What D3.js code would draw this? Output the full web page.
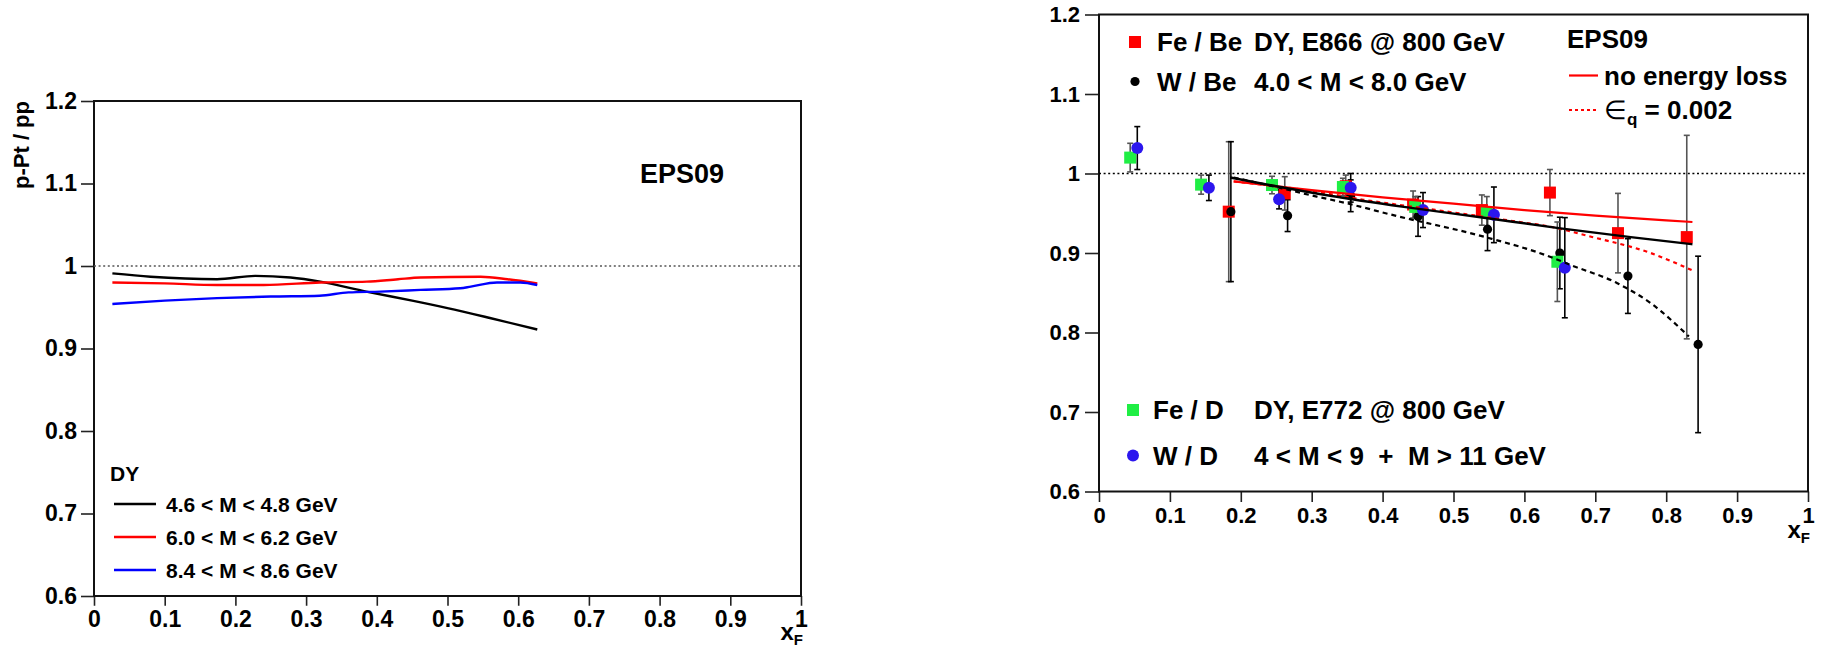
<!DOCTYPE html>
<html>
<head>
<meta charset="utf-8">
<script src="https://cdn.jsdelivr.net/npm/d3@7/dist/d3.min.js"></script>
<style>
  body { margin: 0; background: #fff; }
  text { font-family: "Liberation Sans", Arial, Helvetica, sans-serif; font-weight: bold; }
</style>
</head>
<body>
<script>
// ---------------- data ----------------
var xMajor = [0, 0.1, 0.2, 0.3, 0.4, 0.5, 0.6, 0.7, 0.8, 0.9, 1]
var yMajor = [0.6, 0.7, 0.8, 0.9, 1.0, 1.1, 1.2]

// left panel: EPS09 p-Pt / pp, DY mass bins
var dyLabels = ['4.6 < M < 4.8 GeV', '6.0 < M < 6.2 GeV', '8.4 < M < 8.6 GeV']
var dyColors = ['#000000', '#ff0000', '#0000ff']
var blackX = [0.026, 0.08, 0.174, 0.228, 0.278, 0.32, 0.385, 0.45, 0.5, 0.56, 0.627]
var blackY = [0.991, 0.987, 0.984, 0.988, 0.986, 0.981, 0.969, 0.958, 0.949, 0.937, 0.923]
var redX = [0.026, 0.1, 0.174, 0.24, 0.32, 0.386, 0.43, 0.462, 0.547, 0.585, 0.627]
var redY = [0.980, 0.979, 0.977, 0.977, 0.980, 0.981, 0.984, 0.986, 0.987, 0.984, 0.979]
var blueX = [0.026, 0.1, 0.174, 0.25, 0.319, 0.36, 0.405, 0.462, 0.518, 0.533, 0.57, 0.603, 0.627]
var blueY = [0.954, 0.958, 0.961, 0.963, 0.964, 0.968, 0.969, 0.971, 0.973, 0.975, 0.980, 0.980, 0.977]

// right panel: E866 and E772 data
var feBeX = [0.183, 0.262, 0.348, 0.443, 0.54, 0.636, 0.732, 0.829]
var feBeY = [0.952, 0.975, 0.984, 0.961, 0.954, 0.976, 0.925, 0.920]
var feBeErr = [0.088, 0.021, 0.014, 0.017, 0.019, 0.029, 0.05, 0.128]

var wBeX = [0.186, 0.266, 0.355, 0.45, 0.548, 0.65, 0.746, 0.845]
var wBeY = [0.952, 0.947, 0.972, 0.946, 0.930, 0.900, 0.871, 0.785]
var wBeErr = [0.088, 0.02, 0.02, 0.025, 0.027, 0.045, 0.047, 0.111]

var feDX = [0.044, 0.144, 0.244, 0.344, 0.446, 0.547, 0.6465]
var feDY = [1.020, 0.986, 0.9855, 0.983, 0.958, 0.951, 0.889]
var feDErr = [0.018, 0.012, 0.011, 0.011, 0.013, 0.02, 0.05]

var wDX = [0.054, 0.155, 0.254, 0.355, 0.457, 0.557, 0.657]
var wDY = [1.032, 0.982, 0.9675, 0.982, 0.954, 0.948, 0.8815]
var wDErr = [0.027, 0.016, 0.012, 0.018, 0.022, 0.035, 0.063]

// EPS09 curves (right panel)
var feNoLossX = [0.19, 0.3, 0.4, 0.5, 0.6, 0.7, 0.8, 0.837]
var feNoLossY = [0.990, 0.979, 0.970, 0.962, 0.954, 0.947, 0.941, 0.939]
var feLossX = [0.19, 0.3, 0.373, 0.468, 0.585, 0.637, 0.694, 0.778, 0.837]
var feLossY = [0.990, 0.978, 0.967, 0.955, 0.940, 0.933, 0.9205, 0.900, 0.878]
var wNoLossX = [0.185, 0.25, 0.326, 0.43, 0.538, 0.651, 0.75, 0.837]
var wNoLossY = [0.995, 0.984, 0.972, 0.958, 0.945, 0.931, 0.920, 0.911]
var wLossX = [0.19, 0.25, 0.307, 0.34, 0.42, 0.543, 0.637, 0.665, 0.731, 0.778, 0.832]
var wLossY = [0.995, 0.983, 0.971, 0.9645, 0.9465, 0.9205, 0.895, 0.885, 0.862, 0.837, 0.795]

var zip = (xs, ys) => xs.map((x, i) => [x, ys[i]])
var zip3 = (xs, ys, es) => xs.map((x, i) => [x, ys[i], es[i]])
var fmt = (d) => (d === 0 || d === 1) ? String(d) : d3.format('.1f')(d)
var minorX = d3.range(51).map((i) => i * 0.02)
var minorY = d3.range(31).map((i) => 0.6 + i * 0.02)

var svg = d3.select('body').append('svg').attr('width', 1822).attr('height', 653)

function axes (x, y, o) {
  var g = svg.append('g')
  var yA = g.append('g').attr('transform', 'translate(' + x.range()[0] + ',0)')
  yA.call(d3.axisLeft(y).tickValues(minorY).tickSize(o.minor).tickFormat(''))
  yA.call(d3.axisLeft(y).tickValues(yMajor).tickSize(o.major).tickPadding(o.yPad).tickFormat(fmt))
  var xA = g.append('g').attr('transform', 'translate(0,' + y.range()[0] + ')')
  xA.call(d3.axisBottom(x).tickValues(minorX).tickSize(o.minor * 0.7).tickFormat(''))
  xA.call(d3.axisBottom(x).tickValues(xMajor).tickSize(o.major * 0.75).tickPadding(o.xPad).tickFormat(fmt))
  g.selectAll('.domain').remove()
  g.selectAll('.tick line').attr('stroke', '#222').attr('stroke-width', 1.6)
  g.selectAll('.tick text').attr('font-size', o.font).attr('fill', '#000')
    .style('font-family', '"Liberation Sans", Arial, sans-serif').style('font-weight', 'bold')
  svg.append('rect')
    .attr('x', x.range()[0]).attr('y', y.range()[1])
    .attr('width', x.range()[1] - x.range()[0]).attr('height', y.range()[0] - y.range()[1])
    .attr('fill', 'none').attr('stroke', '#111').attr('stroke-width', 2)
  // dotted reference at 1
  svg.append('line')
    .attr('x1', x(0)).attr('x2', x(1)).attr('y1', y(1)).attr('y2', y(1))
    .attr('stroke', o.dotColor).attr('stroke-width', 1.4).attr('stroke-dasharray', '2,2.6')
  // x_F label
  var t = svg.append('text').attr('x', x(1) + 2).attr('y', o.xfY).attr('text-anchor', 'end')
    .attr('font-size', 24)
  t.append('tspan').text('x')
  t.append('tspan').attr('dy', 5).attr('font-size', 15).text('F')
}

// ---------------- left panel ----------------
var xL = d3.scaleLinear([0, 1], [94, 801])
var yL = d3.scaleLinear([0.6, 1.2], [596, 101])
axes(xL, yL, { major: 13, minor: 7, yPad: 4, xPad: 5, font: 23, dotColor: '#555', xfY: 640 })

svg.append('text')
  .attr('transform', 'translate(29,101) rotate(-90)')
  .attr('text-anchor', 'end').attr('font-size', 22).text('p-Pt / pp')

svg.append('text').attr('x', 640).attr('y', 173).attr('dy', '0.36em')
  .attr('font-size', 27).text('EPS09')

var lineL = d3.line().x((d) => xL(d[0])).y((d) => yL(d[1])).curve(d3.curveMonotoneX)
var leftSeries = [zip(blackX, blackY), zip(redX, redY), zip(blueX, blueY)]
svg.append('g').selectAll('path').data(leftSeries).enter()
  .append('path')
  .attr('d', lineL)
  .attr('fill', 'none')
  .attr('stroke', (d, i) => dyColors[i])
  .attr('stroke-width', 2.4)

svg.append('text').attr('x', 110).attr('y', 473).attr('dy', '0.36em').attr('font-size', 21).text('DY')
var legL = svg.append('g').selectAll('g').data(dyLabels).enter()
  .append('g').attr('transform', (d, i) => 'translate(0,' + (504 + i * 33) + ')')
legL.append('line').attr('x1', 114).attr('x2', 156)
  .attr('stroke', (d, i) => dyColors[i]).attr('stroke-width', 2.4)
legL.append('text').attr('x', 166).attr('dy', '0.36em').attr('font-size', 21).text((d) => d)

// ---------------- right panel ----------------
var xR = d3.scaleLinear([0, 1], [1099, 1808])
var yR = d3.scaleLinear([0.6, 1.2], [491.5, 14.5])
axes(xR, yR, { major: 14, minor: 7, yPad: 5, xPad: 5, font: 22, dotColor: '#000', xfY: 538 })

var lineR = d3.line().x((d) => xR(d[0])).y((d) => yR(d[1])).curve(d3.curveMonotoneX)

function errorBars (pts, color) {
  var g = svg.append('g').attr('stroke', color).attr('stroke-width', 1.6)
  pts.forEach((p) => {
    var cx = xR(p[0])
    g.append('line').attr('x1', cx).attr('x2', cx).attr('y1', yR(p[1] + p[2])).attr('y2', yR(p[1] - p[2]))
    g.append('line').attr('x1', cx - 3).attr('x2', cx + 3).attr('y1', yR(p[1] + p[2])).attr('y2', yR(p[1] + p[2]))
    g.append('line').attr('x1', cx - 3).attr('x2', cx + 3).attr('y1', yR(p[1] - p[2])).attr('y2', yR(p[1] - p[2]))
  })
}

var feBe = zip3(feBeX, feBeY, feBeErr)
var wBe = zip3(wBeX, wBeY, wBeErr)
var feD = zip3(feDX, feDY, feDErr)
var wD = zip3(wDX, wDY, wDErr)

errorBars(feBe, '#555')
errorBars(wBe, '#000')
errorBars(feD, '#555')
errorBars(wD, '#000')

function squares (pts, color, s) {
  svg.append('g').selectAll('rect').data(pts).enter().append('rect')
    .attr('x', (d) => xR(d[0]) - s / 2).attr('y', (d) => yR(d[1]) - s / 2)
    .attr('width', s).attr('height', s).attr('fill', color)
}
function circles (pts, color, r) {
  svg.append('g').selectAll('circle').data(pts).enter().append('circle')
    .attr('cx', (d) => xR(d[0])).attr('cy', (d) => yR(d[1])).attr('r', r).attr('fill', color)
}
squares(feBe, '#ff0000', 12)
circles(wBe, '#000000', 4.6)
squares(feD, '#1fee44', 12)
circles(wD, '#2c16ee', 6)

var curves = [
  { pts: zip(feNoLossX, feNoLossY), color: '#ff0000', dash: null, w: 2.2 },
  { pts: zip(feLossX, feLossY), color: '#ff0000', dash: '4,4', w: 2.2 },
  { pts: zip(wNoLossX, wNoLossY), color: '#000000', dash: null, w: 2.4 },
  { pts: zip(wLossX, wLossY), color: '#000000', dash: '5,4', w: 2.2 }
]
svg.append('g').selectAll('path').data(curves).enter().append('path')
  .attr('d', (d) => lineR(d.pts))
  .attr('fill', 'none')
  .attr('stroke', (d) => d.color)
  .attr('stroke-width', (d) => d.w)
  .attr('stroke-dasharray', (d) => d.dash)

// legends
function legText (x, y, s) {
  return svg.append('text').attr('x', x).attr('y', y).attr('dy', '0.36em')
    .attr('font-size', 26).attr('xml:space', 'preserve').style('white-space', 'pre').text(s)
}
svg.append('rect').attr('x', 1129).attr('y', 36).attr('width', 12).attr('height', 12).attr('fill', '#ff0000')
legText(1157, 41.5, 'Fe / Be')
legText(1254, 41.5, 'DY, E866 @ 800 GeV')
svg.append('circle').attr('cx', 1135).attr('cy', 81.5).attr('r', 4.6).attr('fill', '#000')
legText(1157, 81.5, 'W / Be')
legText(1254, 81.5, '4.0 < M < 8.0 GeV')

legText(1567, 39, 'EPS09')
svg.append('line').attr('x1', 1569).attr('x2', 1598).attr('y1', 75.5).attr('y2', 75.5)
  .attr('stroke', '#ff0000').attr('stroke-width', 2.2)
legText(1604, 75.5, 'no energy loss')
svg.append('line').attr('x1', 1569).attr('x2', 1598).attr('y1', 110).attr('y2', 110)
  .attr('stroke', '#ff0000').attr('stroke-width', 2).attr('stroke-dasharray', '3,3')
var eq = svg.append('text').attr('x', 1604).attr('y', 110).attr('dy', '0.36em').attr('font-size', 26)
eq.append('tspan').style('font-weight', 'normal').text('\u2208')
eq.append('tspan').attr('dy', 6).attr('font-size', 17).text('q')
eq.append('tspan').attr('dy', -6).text(' = 0.002')

svg.append('rect').attr('x', 1127).attr('y', 404).attr('width', 12).attr('height', 12).attr('fill', '#1fee44')
legText(1153, 410, 'Fe / D')
legText(1254, 410, 'DY, E772 @ 800 GeV')
svg.append('circle').attr('cx', 1133).attr('cy', 455.5).attr('r', 6).attr('fill', '#2c16ee')
legText(1153, 455.5, 'W / D')
legText(1254, 455.5, '4 < M < 9  +  M > 11 GeV')
</script>
</body>
</html>
